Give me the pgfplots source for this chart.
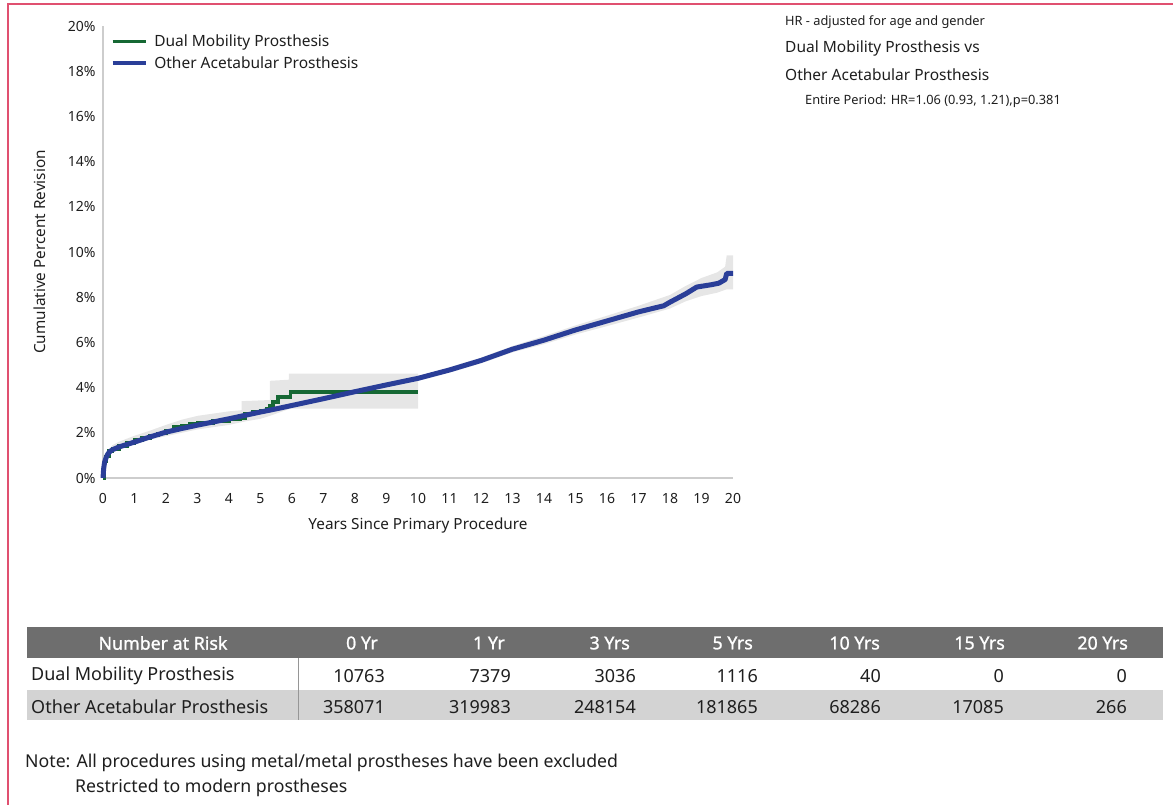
\documentclass[border=0pt]{standalone}
\usepackage{fontspec}
\setmainfont{Noto Sans}
\newfontfamily\hdrfont[FakeBold=1.2]{Noto Sans}
\usepackage{pgfplots}
\pgfplotsset{compat=1.18}
\definecolor{dmgreen}{RGB}{22,104,52}
\definecolor{oablue}{RGB}{42,62,152}
\definecolor{band}{RGB}{230,230,230}
\definecolor{axgray}{RGB}{205,205,205}
\definecolor{hdrgray}{RGB}{110,110,110}
\definecolor{rowgray}{RGB}{211,211,211}
\definecolor{sepgray}{RGB}{150,150,150}
\definecolor{borderpink}{RGB}{224,80,112}
\definecolor{txt}{RGB}{30,30,30}
\begin{document}
\begin{tikzpicture}
\begin{scope}[x=1pt,y=-1pt]
\path[use as bounding box] (0,0) rectangle (1173,805);
\draw[borderpink, line width=1.6pt] (8,806) -- (8,4) -- (1174,4);
% right-hand text
\node[anchor=west, inner sep=0, font=\fontsize{12.8}{14}\selectfont, text=txt] at (785,22) {HR - adjusted for age and gender};
\node[anchor=west, inner sep=0, font=\fontsize{15.5}{17}\selectfont, text=txt] at (785,48) {Dual Mobility Prosthesis vs};
\node[anchor=west, inner sep=0, font=\fontsize{15.5}{17}\selectfont, text=txt] at (785,74.5) {Other Acetabular Prosthesis};
\node[anchor=west, inner sep=0, font=\fontsize{12.8}{14}\selectfont, text=txt] at (805,101) {Entire Period: HR=1.06 (0.93, 1.21),p=0.381};
% table
\fill[hdrgray] (27,627) rectangle (1163,658);
\fill[rowgray] (27,690) rectangle (1163,720);
\draw[sepgray, line width=1pt] (298,658) -- (298,720);
\begin{scope}[every node/.style={inner sep=0, font=\fontsize{18}{20}\selectfont, text=txt}]
\node[anchor=center, text=white, font=\hdrfont\fontsize{17.8}{20}\selectfont] at (163,643) {Number at Risk};
\foreach \x/\t in {378/0 Yr, 505/1 Yr, 630/3 Yrs, 753/5 Yrs, 880/10 Yrs, 1005/15 Yrs, 1128/20 Yrs}
  \node[anchor=east, text=white, font=\hdrfont\fontsize{17.8}{20}\selectfont] at (\x,643) {\t};
\node[anchor=west] at (31,676) {Dual Mobility Prosthesis};
\node[anchor=west] at (31,707) {Other Acetabular Prosthesis};
\foreach \x/\a/\b in {385/10763/358071, 511/7379/319983, 636/3036/248154, 758/1116/181865, 881/40/68286, 1004/0/17085, 1127/0/266}{
  \node[anchor=east] at (\x,676) {\a};
  \node[anchor=east] at (\x,707) {\b};
}
\node[anchor=west, font=\fontsize{17.7}{20}\selectfont] at (25,763) {Note: All procedures using metal/metal prostheses have been excluded};
\node[anchor=west, font=\fontsize{17.7}{20}\selectfont] at (75,788) {Restricted to modern prostheses};
\end{scope}
\end{scope}
\begin{axis}[
  at={(103pt,-478pt)}, anchor=south west,
  width=630pt, height=452pt, scale only axis,
  xmin=0, xmax=20, ymin=0, ymax=20,
  axis x line*=bottom, axis y line*=left,
  axis line style={axgray, line width=2pt},
  xtick={0,1,...,20}, ytick={0,2,...,20},
  major tick length=0pt,
  /pgf/number format/assume math mode=true,
  tick label style={font=\fontsize{14}{16}\selectfont, text=txt},
  yticklabel={\pgfmathprintnumber{\tick}\%},
  yticklabel style={xshift=-4pt},
  xticklabel style={yshift=-11.5pt},
  xlabel={Years Since Primary Procedure},
  ylabel={Cumulative Percent Revision},
  label style={font=\fontsize{15.3}{17}\selectfont, text=txt},
  xlabel style={at={(axis description cs:0.5,-0.106)}, anchor=center},
  ylabel style={at={(axis description cs:-0.1,0.5)}, anchor=center},
  legend style={at={(0.012,0.985)}, anchor=north west, draw=none, fill=none,
    font=\fontsize{15.5}{17}\selectfont, text=txt, row sep=4pt, inner sep=0pt,
    nodes={inner sep=2pt},
    /tikz/every odd column/.append style={column sep=5pt}},
  legend cell align=left,
  legend image code/.code={\draw[#1, line width=3.5pt] (0pt,0pt) -- (33pt,0pt);},
  clip=false,
]
% blue band
\addplot[fill=band, draw=none, forget plot] coordinates {
(0,0) (0.1,0.95) (0.2,1.22) (0.5,1.43) (1,1.66) (2,2.1) (3,2.41) (4,2.69) (5,2.99) (6,3.29) (7,3.59) (8,3.9) (9,4.2) (10,4.5) (11,4.9) (12,5.33) (13,5.84) (14,6.28) (15,6.75) (16,7.18) (17,7.62) (18,8.1) (18.5,8.5) (19,8.85) (19.5,9.1) (19.75,9.35) (19.8,9.85) (20,9.85)
(20,8.35) (19.8,8.35) (19.5,8.2) (19,8.05) (18.5,7.82) (18,7.5) (17,7.1) (16,6.72) (15,6.35) (14,5.92) (13,5.56) (12,5.07) (11,4.66) (10,4.32) (9,4.04) (8,3.74) (7,3.43) (6,3.13) (5,2.85) (4,2.55) (3,2.27) (2,1.96) (1,1.52) (0.5,1.31) (0.2,1.08) (0.1,0.85) (0,0)
} -- cycle;
% green band
\addplot[fill=band, draw=none, forget plot] coordinates {
(0,0) (0.1,1.1) (0.3,1.45) (0.5,1.6) (1,1.87) (1.5,2.1) (2,2.35) (2.5,2.58) (3,2.75) (3.5,2.85) (4,2.95) (4.4,3.0) (4.4,3.4) (5.3,3.45) (5.3,4.3) (5.9,4.35) (5.9,4.62) (10,4.62)
(10,3.07) (5.95,3.07) (5.6,2.9) (5.3,2.75) (5,2.62) (4.5,2.5) (4,2.35) (3.5,2.25) (3,2.15) (2.5,2.0) (2,1.85) (1.5,1.7) (1,1.48) (0.5,1.25) (0.3,1.15) (0.1,0.8) (0,0)
} -- cycle;
% Dual Mobility
\addplot[const plot, dmgreen, line width=3.8pt] coordinates {
(0,0) (0.05,0.75) (0.1,0.95) (0.2,1.2) (0.3,1.3) (0.5,1.42) (0.75,1.55) (1,1.67) (1.25,1.78) (1.5,1.88) (1.75,1.97) (2,2.1) (2.25,2.25) (2.5,2.3) (2.75,2.38) (3,2.45) (3.5,2.52) (4,2.6) (4.35,2.65) (4.5,2.85) (4.75,2.92) (5,2.97) (5.2,3.05) (5.3,3.2) (5.4,3.35) (5.55,3.6) (5.95,3.82) (10,3.82)
};
\addlegendentry{Dual Mobility Prosthesis}
% Other Acetabular
\addplot[oablue, line width=5pt, line join=round] coordinates {
(0,0) (0.02,0.4) (0.05,0.7) (0.1,0.9) (0.15,1.05) (0.2,1.15) (0.3,1.25) (0.5,1.37) (0.75,1.48) (1,1.59) (1.5,1.82) (2,2.03) (2.5,2.19) (3,2.34) (3.5,2.48) (4,2.62) (4.5,2.77) (5,2.92) (5.5,3.06) (6,3.21) (7,3.51) (8,3.82) (9,4.12) (10,4.41) (11,4.78) (12,5.2) (13,5.7) (14,6.1) (15,6.55) (16,6.95) (17,7.35) (17.5,7.52) (17.8,7.62) (18,7.78) (18.5,8.15) (18.85,8.45) (19.3,8.55) (19.55,8.62) (19.75,8.78) (19.8,9.05) (20,9.05)
};
\addlegendentry{Other Acetabular Prosthesis}
\end{axis}
\end{tikzpicture}
\end{document}
